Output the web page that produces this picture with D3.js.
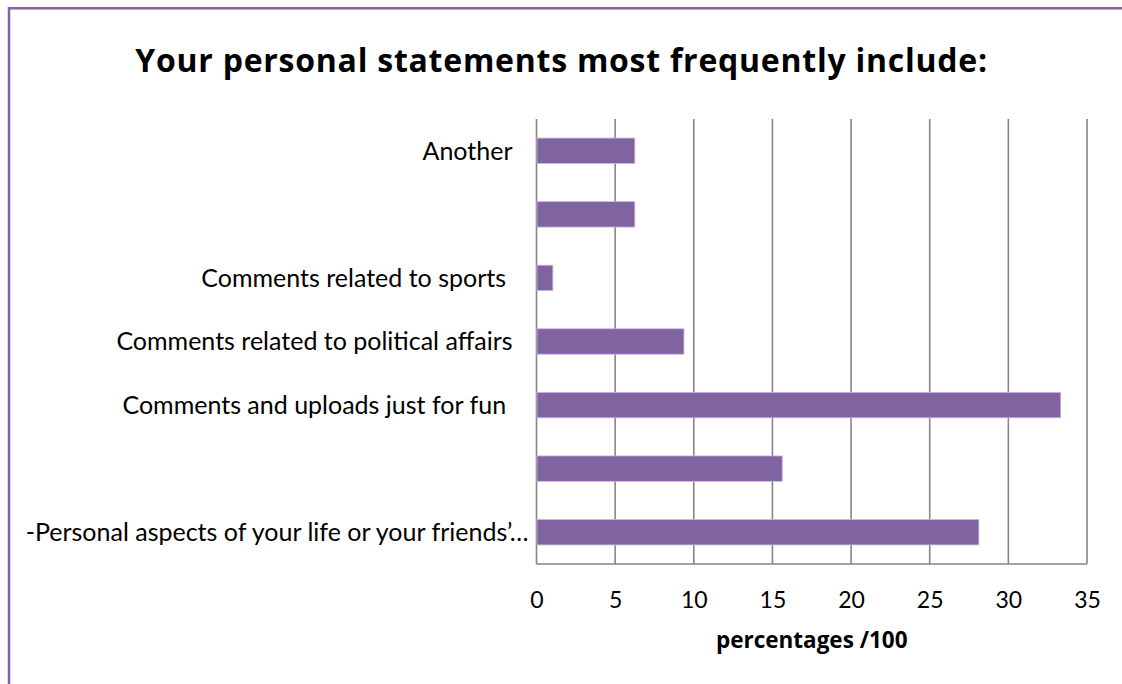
<!DOCTYPE html>
<html>
<head>
<meta charset="utf-8">
<script src="https://cdn.jsdelivr.net/npm/d3@7"></script>
<style>
  html, body { margin: 0; padding: 0; background: #fff; }
  svg { display: block; }
  text { font-family: Lato, "Open Sans", sans-serif; fill: #000; }
</style>
</head>
<body>
<svg id="chart" width="1122" height="684"></svg>
<script>
// Survey answers, listed from the top bar down
const categories = [
  "Another",
  "",
  "Comments related to sports ",
  "Comments related to political affairs",
  "Comments and uploads just for fun ",
  "",
  "-Personal aspects of your life or your friends’…"
];
const values = [6.25, 6.25, 1.04, 9.375, 33.33, 15.625, 28.125];
const xTicks = [0, 5, 10, 15, 20, 25, 30, 35];
const titleText = "Your personal statements most frequently include:";
const xAxisTitle = "percentages /100";

const svg = d3.select("#chart");
const W = 1122, H = 684;
const margin = { left: 536.5, right: 35, top: 119, bottom: 120 };
const plotW = W - margin.left - margin.right;
const plotH = H - margin.top - margin.bottom;

// Outer frame: only the left and top edges fall inside the view
svg.append("path")
  .attr("d", `M9,${H} V8.3 H${W}`)
  .attr("fill", "none")
  .attr("stroke", "#8064A2")
  .attr("stroke-width", 2.5);

svg.append("text")
  .attr("x", 561.5)
  .attr("y", 72)
  .attr("text-anchor", "middle")
  .style("font-family", "'Open Sans', Lato, sans-serif")
  .style("font-size", "32px")
  .style("letter-spacing", "0.75px")
  .style("font-weight", "bold")
  .text(titleText);

const x = d3.scaleLinear().domain([0, 35]).range([0, plotW]);
const y = d3.scaleBand().domain(d3.range(categories.length))
  .range([0, plotH]).paddingInner(0.6).paddingOuter(0.3);

const g = svg.append("g").attr("transform", `translate(${margin.left},${margin.top})`);

// Vertical gridlines
g.append("g")
  .selectAll("line")
  .data(xTicks)
  .join("line")
  .attr("x1", d => x(d)).attr("x2", d => x(d))
  .attr("y1", 0).attr("y2", plotH)
  .attr("stroke", "#868686")
  .attr("stroke-width", 1.6);

// Bottom axis baseline
g.append("line")
  .attr("x1", 0).attr("x2", plotW)
  .attr("y1", plotH).attr("y2", plotH)
  .attr("stroke", "#868686")
  .attr("stroke-width", 1.6);

// Bars
g.append("g")
  .selectAll("rect")
  .data(values)
  .join("rect")
  .attr("x", 0.5)
  .attr("y", (d, i) => y(i))
  .attr("width", d => x(d) - 0.5)
  .attr("height", y.bandwidth())
  .attr("fill", "#8064A2")
  .attr("stroke", "#c9b8e0")
  .attr("stroke-width", 0.8);

// Tick labels along x
const xAxis = d3.axisBottom(x).tickValues(xTicks).tickSize(0).tickPadding(0);
const xg = g.append("g").attr("transform", `translate(0,${plotH})`).call(xAxis);
xg.select(".domain").remove();
xg.selectAll("text")
  .attr("y", 44)
  .attr("dy", null)
  .style("font-size", "23px")
  .style("font-family", "Lato, 'Open Sans', sans-serif");

// Category labels
g.append("g")
  .selectAll("text")
  .data(categories)
  .join("text")
  .attr("x", d => d.endsWith("…") ? -8 : -24)
  .attr("y", (d, i) => y(i) + y.bandwidth() / 2)
  .attr("dy", "0.35em")
  .attr("text-anchor", "end")
  .style("font-size", "25px")
  .style("white-space", "pre")
  .text(d => d);

svg.append("text")
  .attr("x", margin.left + plotW / 2)
  .attr("y", 648)
  .attr("text-anchor", "middle")
  .style("font-family", "'Open Sans', Lato, sans-serif")
  .style("font-size", "22.5px")
  .style("font-weight", "bold")
  .text(xAxisTitle);
</script>
</body>
</html>
